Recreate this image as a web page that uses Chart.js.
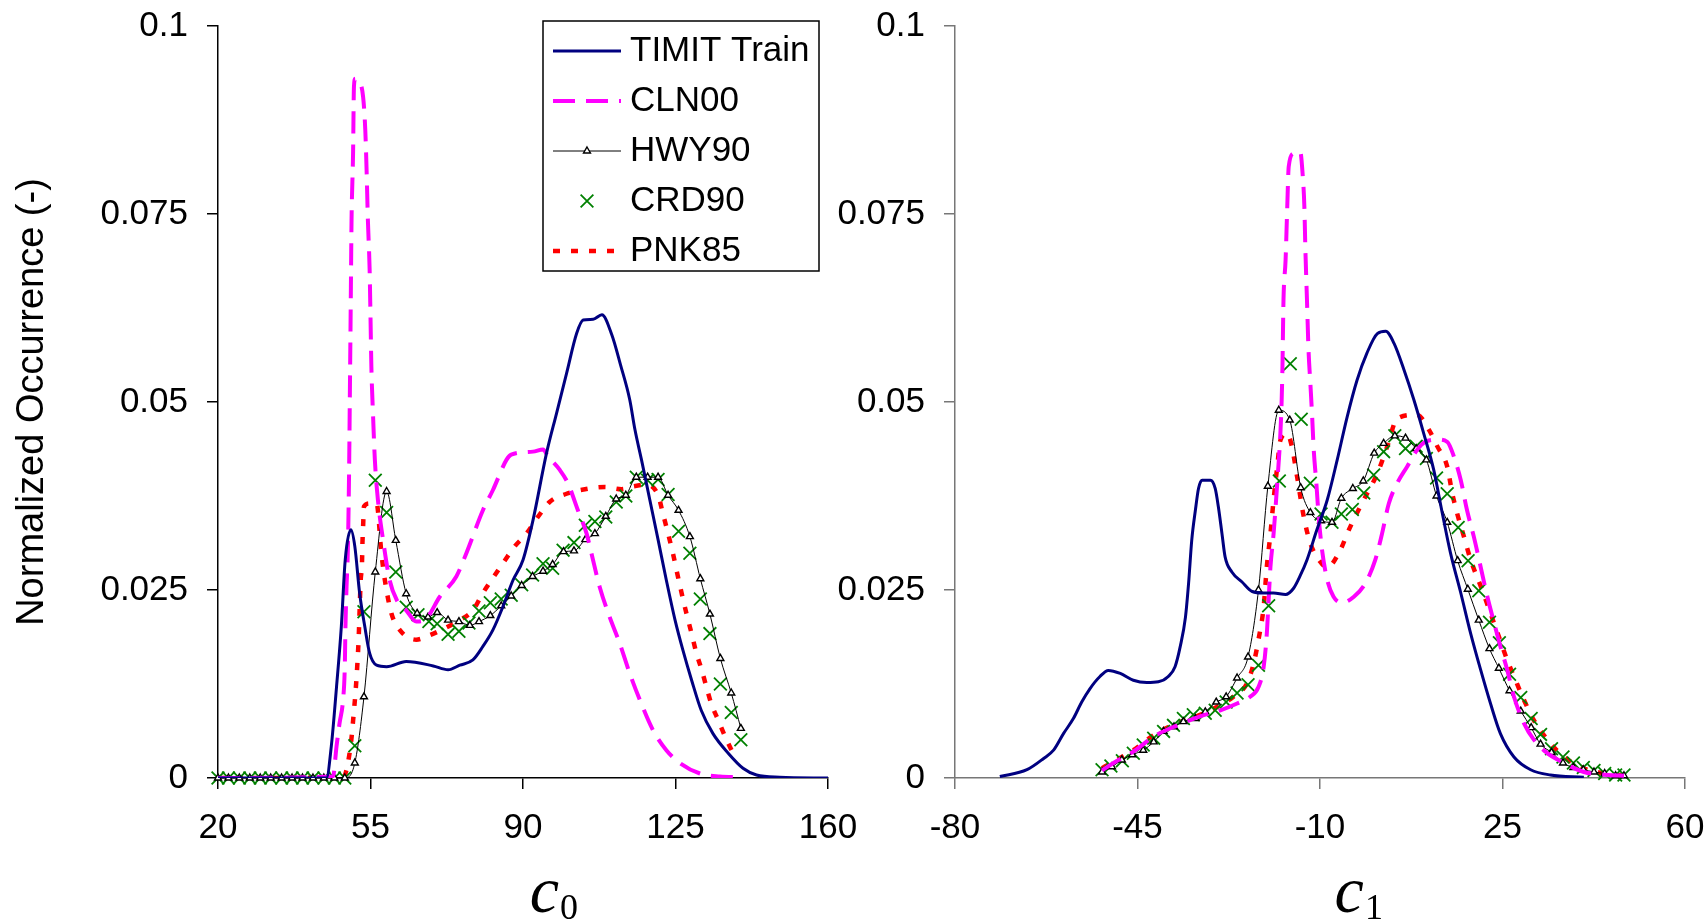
<!DOCTYPE html>
<html>
<head>
<meta charset="utf-8">
<script src="https://cdn.jsdelivr.net/npm/chart.js@4.4.1/dist/chart.umd.min.js"></script>
<style>
  body { margin: 0; background: #fff; }
  #wrap { position: relative; width: 1708px; height: 921px; }
  canvas { position: absolute; top: 0; }
</style>
</head>
<body>
<div id="wrap">
  <canvas id="chartC0" width="880" height="921" style="left:0"></canvas>
  <canvas id="chartC1" width="878" height="921" style="left:830px"></canvas>
</div>
<script>
// tick values and labels
const c0Ticks = [20, 55, 90, 125, 160];
const c1Ticks = [-80, -45, -10, 25, 60];
const yTicks = [0, 0.025, 0.05, 0.075, 0.1];
const yTickLabels = ['0', '0.025', '0.05', '0.075', '0.1'];
const seriesNames = ['TIMIT Train', 'CLN00', 'HWY90', 'CRD90', 'PNK85'];

// c0 histograms, [x, y]
const timitC0 = [[20,0],[44.9,0],[46.0,0.0042],[47.2,0.0121],[48.3,0.0201],[49.2,0.0290],[50.5,0.0330],[51.4,0.0308],[52.5,0.0246],
  [53.7,0.0201],[54.8,0.0166],[56.4,0.0150],[58.7,0.0148],[63.2,0.0155],[69.4,0.0149],[72.8,0.0144],[75.5,0.0150],[78.5,0.0157],
  [80.8,0.0175],[83.1,0.0197],[85.4,0.0228],[87.7,0.0263],[90.0,0.0290],[92.3,0.0343],[95.4,0.0432],[97.7,0.0485],[100.0,0.0538],
  [102.3,0.0591],[103.8,0.0609],[106.1,0.0610],[108.1,0.0616],[110.4,0.0589],[112.4,0.0549],[114.5,0.0503],[115.7,0.0463],
  [117.2,0.0423],[119.1,0.0370],[121.0,0.0317],[122.9,0.0263],[124.9,0.0210],[126.7,0.0170],[128.7,0.0130],[130.9,0.0090],
  [133.6,0.0059],[137.1,0.0033],[140.5,0.0013],[143.6,0.0004],[148.9,0.0001],[160,0]];
const clnC0 = [[20,0],[46.4,0.0002],[47.2,0.0042],[47.9,0.0073],[48.7,0.0104],[49.1,0.0148],[49.25,0.0201],[49.5,0.0254],
  [49.8,0.0303],[50.1,0.0414],[50.25,0.0503],[50.4,0.0591],[50.5,0.0653],[50.65,0.0742],[51.0,0.0831],[51.2,0.0919],[51.5,0.0930],
  [52.1,0.0928],[53.3,0.0906],[53.8,0.0862],[54.1,0.0809],[54.4,0.0742],[54.8,0.0676],[55.0,0.0613],[55.2,0.0547],[55.6,0.0480],
  [56.0,0.0423],[56.7,0.0370],[57.9,0.0316],[59.4,0.0263],[61.0,0.0237],[63.2,0.0223],[65.5,0.0208],[67.8,0.0212],[70.9,0.0241],
  [74.7,0.0268],[77.0,0.0299],[80.8,0.0356],[83.1,0.0383],[86.2,0.0423],[87.3,0.0430],[92.3,0.0434],[94.6,0.0437],[95.7,0.0428],
  [98.4,0.0410],[100.3,0.0392],[102.6,0.0356],[104.6,0.0325],[105.7,0.0299],[107.6,0.0254],[109.9,0.0214],[112.2,0.0179],
  [114.5,0.0139],[116.8,0.0104],[119.8,0.0064],[122.9,0.0037],[126.0,0.0020],[130.6,0.0006],[135.2,0.0002],[139.7,0.0001]];
const hwyC0 = [[20,0],[22.4,0],[24.9,0],[27.3,0],[29.7,0],[32.1,0],[34.6,0],[37.0,0],[39.4,0],[41.8,0],[44.3,0],[46.7,0],[49.1,0],
  [51.4,0.0020],[53.5,0.0108],[56.1,0.0274],[58.7,0.0381],[60.8,0.0316],[63.2,0.0245],[65.7,0.0219],[68.2,0.0214],[70.3,0.0220],
  [72.8,0.0210],[75.3,0.0208],[77.8,0.0203],[79.9,0.0208],[82.5,0.0216],[85.0,0.0229],[87.3,0.0242],[89.7,0.0256],[92.2,0.0268],
  [94.6,0.0275],[96.8,0.0284],[99.3,0.0301],[101.7,0.0302],[104.3,0.0317],[106.5,0.0325],[109.0,0.0348],[111.4,0.0371],
  [113.6,0.0376],[116.0,0.0400],[118.6,0.0400],[121.0,0.0400],[123.3,0.0376],[125.7,0.0356],[128.3,0.0321],[130.7,0.0265],
  [132.9,0.0218],[135.3,0.0159],[137.8,0.0113],[140.0,0.0066]];
const crdC0 = [[20,0],[22.4,0],[24.9,0],[27.3,0],[29.7,0],[32.1,0],[34.6,0],[37.0,0],[39.4,0],[41.8,0],[44.3,0],[46.7,0],[49.1,0],
  [51.4,0.0043],[53.5,0.0221],[56.1,0.0396],[58.7,0.0353],[60.8,0.0274],[63.2,0.0227],[65.9,0.0217],[68.4,0.0208],[70.3,0.0205],
  [72.8,0.0191],[75.3,0.0195],[77.6,0.0206],[79.9,0.0222],[82.5,0.0233],[85.0,0.0238],[87.3,0.0243],[89.7,0.0257],[92.2,0.0270],
  [94.6,0.0285],[96.8,0.0279],[99.2,0.0303],[101.7,0.0313],[104.3,0.0336],[106.5,0.0341],[109.0,0.0347],[111.4,0.0367],
  [113.6,0.0375],[116.0,0.0400],[118.6,0.0396],[121.0,0.0397],[123.3,0.0377],[125.7,0.0328],[128.3,0.0299],[130.7,0.0238],
  [132.9,0.0192],[135.3,0.0125],[137.8,0.0087],[140.0,0.0051]];
const pnkC0 = [[20,0],[48.7,0.0001],[49.5,0.0011],[50.6,0.0051],[51.15,0.0086],[51.6,0.0117],[52.0,0.0153],[52.3,0.0188],
  [52.5,0.0223],[52.75,0.0263],[53.05,0.0286],[53.15,0.0312],[53.3,0.0334],[53.5,0.0361],[54.8,0.0365],[56.4,0.0365],[57.5,0.0299],
  [58.3,0.0263],[59.8,0.0219],[61.7,0.0197],[65.5,0.0184],[68.6,0.0190],[72.0,0.0199],[75.5,0.0210],[78.5,0.0223],[80.8,0.0246],
  [83.1,0.0266],[85.8,0.0289],[88.1,0.0308],[90.8,0.0325],[93.4,0.0347],[96.1,0.0367],[100.0,0.0378],[104.2,0.0384],[108.8,0.0387],
  [112.6,0.0384],[115.4,0.0388],[118.3,0.0390],[121.0,0.0376],[122.1,0.0352],[123.3,0.0325],[124.4,0.0299],[125.4,0.0272],
  [126.4,0.0246],[127.5,0.0219],[128.7,0.0192],[129.8,0.0166],[131.0,0.0144],[132.1,0.0121],[133.2,0.0099],[134.8,0.0077],
  [136.7,0.0051],[138.2,0.0033]];

// c1 histograms, [x, y]
const timitC1 = [[-71.4,0.0002],[-66.2,0.0011],[-63.0,0.0026],[-61.1,0.0037],[-59.2,0.0059],[-57.3,0.0079],[-55.7,0.0101],
  [-54.1,0.0119],[-52.2,0.0135],[-50.6,0.0143],[-48.3,0.0139],[-45.8,0.0130],[-43.2,0.0127],[-41.0,0.0128],[-39.1,0.0135],
  [-37.8,0.0148],[-36.8,0.0175],[-35.8,0.0214],[-35.2,0.0259],[-34.6,0.0316],[-33.9,0.0356],[-33.3,0.0385],[-32.6,0.0396],
  [-31.0,0.0396],[-30.1,0.0385],[-29.5,0.0361],[-28.8,0.0325],[-28.2,0.0294],[-26.9,0.0274],[-25.0,0.0261],[-23.0,0.0248],
  [-20.8,0.0246],[-18.9,0.0246],[-16.6,0.0244],[-15.1,0.0252],[-13.8,0.0269],[-12.5,0.0290],[-10.6,0.0330],[-8.6,0.0370],
  [-6.7,0.0423],[-4.8,0.0480],[-2.9,0.0529],[-1.0,0.0565],[1.0,0.0591],[2.6,0.0594],[4.2,0.0578],[6.1,0.0543],[8.0,0.0503],
  [9.9,0.0458],[11.8,0.0410],[13.4,0.0354],[15.0,0.0300],[17.0,0.0246],[18.9,0.0192],[20.8,0.0144],[22.7,0.0099],[24.6,0.0059],
  [27.2,0.0028],[30.4,0.0011],[34.2,0.0004],[40.6,0.0001]];
const clnC1 = [[-51.8,0.0010],[-49.6,0.0020],[-45.8,0.0035],[-41.9,0.0055],[-37.4,0.0070],[-33.0,0.0082],[-29.1,0.0090],
  [-25.9,0.0099],[-23.4,0.0108],[-21.8,0.0121],[-20.8,0.0148],[-20.2,0.0192],[-19.85,0.0237],[-19.5,0.0281],[-18.9,0.0325],
  [-18.2,0.0392],[-17.6,0.0458],[-17.35,0.0503],[-17.2,0.0547],[-17.0,0.0636],[-16.6,0.0689],[-16.3,0.0755],[-16.0,0.0813],
  [-15.05,0.0831],[-13.8,0.0833],[-13.3,0.0800],[-13.0,0.0760],[-12.8,0.0702],[-12.5,0.0636],[-12.2,0.0569],[-11.85,0.0525],
  [-11.5,0.0480],[-11.2,0.0436],[-10.7,0.0392],[-10.25,0.0347],[-9.6,0.0303],[-8.6,0.0263],[-7.4,0.0241],[-5.8,0.0233],
  [-3.5,0.0241],[-1.3,0.0259],[0.6,0.0290],[1.9,0.0325],[3.2,0.0365],[4.8,0.0392],[6.7,0.0414],[8.6,0.0436],[10.2,0.0447],
  [12.5,0.0450],[14.4,0.0447],[15.7,0.0427],[17.0,0.0396],[18.2,0.0356],[19.5,0.0321],[20.8,0.0281],[22.1,0.0241],[23.4,0.0206],
  [24.6,0.0175],[25.9,0.0144],[27.2,0.0108],[29.1,0.0073],[31.0,0.0051],[33.6,0.0033],[36.8,0.0020],[40.6,0.0008],[45.1,0.0004],
  [48.3,0.0003]];
const hwyC1 = [[-51.8,0.0008],[-49.9,0.0015],[-48.0,0.0024],[-46.0,0.0031],[-43.9,0.0037],[-41.9,0.0048],[-40.0,0.0062],
  [-38.0,0.0068],[-36.2,0.0075],[-33.9,0.0079],[-32.0,0.0088],[-29.9,0.0101],[-28.0,0.0108],[-25.9,0.0133],[-23.8,0.0161],
  [-21.8,0.0250],[-20.0,0.0388],[-17.9,0.0489],[-15.8,0.0476],[-13.7,0.0386],[-11.85,0.0353],[-9.8,0.0342],[-7.7,0.0340],
  [-5.9,0.0372],[-3.7,0.0385],[-1.7,0.0395],[0.4,0.0432],[2.2,0.0445],[4.35,0.0455],[6.4,0.0452],[8.45,0.0438],[10.4,0.0423],
  [12.35,0.0375],[14.4,0.0340],[16.4,0.0289],[18.35,0.0251],[20.45,0.0210],[22.5,0.0172],[24.3,0.0146],[26.35,0.0116],
  [28.5,0.0089],[30.5,0.0067],[32.3,0.0045],[34.4,0.0034],[36.6,0.0020],[38.6,0.0014],[40.5,0.0011],[42.55,0.0008],
  [44.6,0.0006],[46.7,0.0003],[48.3,0.0003]];
const crdC1 = [[-51.8,0.0011],[-50.1,0.0016],[-47.9,0.0023],[-45.8,0.0033],[-43.9,0.0044],[-41.9,0.0053],[-40.0,0.0062],
  [-38.1,0.0070],[-36.2,0.0079],[-34.3,0.0084],[-32.0,0.0086],[-30.1,0.0090],[-28.0,0.0101],[-25.9,0.0113],[-23.8,0.0124],
  [-21.8,0.0150],[-19.85,0.0229],[-17.8,0.0395],[-15.7,0.0551],[-13.6,0.0477],[-11.85,0.0392],[-9.8,0.0351],[-7.7,0.0340],
  [-5.9,0.0351],[-3.8,0.0357],[-1.6,0.0379],[0.3,0.0403],[2.2,0.0434],[4.35,0.0455],[6.4,0.0438],[8.45,0.0441],[10.4,0.0425],
  [12.35,0.0399],[14.4,0.0378],[16.5,0.0333],[18.4,0.0289],[20.45,0.0249],[22.5,0.0207],[24.4,0.0180],[26.35,0.0138],
  [28.5,0.0107],[30.5,0.0079],[32.3,0.0058],[34.4,0.0039],[36.6,0.0028],[38.6,0.0020],[40.5,0.0014],[42.55,0.0010],
  [44.6,0.0006],[46.7,0.0004],[48.3,0.0004]];
const pnkC1 = [[-51.8,0.0013],[-45.8,0.0037],[-41.9,0.0057],[-37.4,0.0073],[-33.0,0.0084],[-29.1,0.0097],[-26.6,0.0108],
  [-24.0,0.0126],[-22.7,0.0153],[-21.8,0.0184],[-20.8,0.0228],[-20.2,0.0281],[-19.5,0.0325],[-18.9,0.0370],[-18.2,0.0414],
  [-17.6,0.0449],[-16.3,0.0458],[-15.4,0.0441],[-14.4,0.0401],[-13.1,0.0347],[-11.85,0.0312],[-10.0,0.0288],[-8.6,0.0280],
  [-6.4,0.0299],[-4.2,0.0334],[-1.6,0.0370],[1.0,0.0405],[2.9,0.0441],[4.8,0.0478],[8.6,0.0483],[10.9,0.0463],[12.5,0.0441],
  [14.4,0.0414],[15.35,0.0379],[16.3,0.0352],[17.6,0.0321],[18.9,0.0290],[21.1,0.0250],[22.7,0.0219],[24.3,0.0188],
  [25.9,0.0157],[27.5,0.0130],[29.1,0.0104],[31.0,0.0077],[33.6,0.0051],[36.8,0.0028],[40.6,0.0013],[44.5,0.0006],[48.3,0.0003]];

Chart.defaults.font.family = "'Liberation Sans', Arial, sans-serif";
Chart.defaults.color = '#000';

function toPoints(pairs) {
  return pairs.map(p => ({ x: p[0], y: p[1] }));
}

function makeDatasets(timit, cln, hwy, crd, pnk) {
  return [{
    label: seriesNames[0], data: toPoints(timit),
    borderColor: '#000080', borderWidth: 3, pointRadius: 0,
    cubicInterpolationMode: 'monotone'
  }, {
    label: seriesNames[1], data: toPoints(cln),
    borderColor: '#ff00ff', borderWidth: 4, borderDash: [22, 11], pointRadius: 0,
    cubicInterpolationMode: 'monotone'
  }, {
    label: seriesNames[2], data: toPoints(hwy),
    borderColor: '#000', borderWidth: 1, cubicInterpolationMode: 'monotone',
    pointStyle: 'triangle', pointRadius: 4, pointBorderWidth: 1.4,
    pointBackgroundColor: '#fff', pointBorderColor: '#000', clip: false
  }, {
    label: seriesNames[3], data: toPoints(crd), showLine: false,
    borderColor: '#008000', backgroundColor: '#008000',
    pointStyle: 'crossRot', pointRadius: 9, pointBorderWidth: 1.8, clip: false
  }, {
    label: seriesNames[4], data: toPoints(pnk),
    borderColor: '#ff0000', borderWidth: 4.5, borderDash: [7, 11], pointRadius: 0,
    cubicInterpolationMode: 'monotone'
  }];
}

// legend box drawn inside the plot, as in the figure
const boxLegend = {
  id: 'boxLegend',
  afterDraw(chart, args, opts) {
    if (!opts.show) return;
    const ctx = chart.ctx, ca = chart.chartArea;
    const x0 = ca.right - 285, y0 = ca.top - 5, w = 276, h = 250;
    ctx.save();
    ctx.fillStyle = '#fff';
    ctx.fillRect(x0, y0, w, h);
    ctx.strokeStyle = '#000';
    ctx.lineWidth = 1.5;
    ctx.strokeRect(x0, y0, w, h);
    chart.data.datasets.forEach((ds, i) => {
      const y = y0 + 30 + i * 50;
      const xa = x0 + 10, xb = x0 + 78, xm = (xa + xb) / 2;
      if (ds.showLine !== false) {
        ctx.beginPath();
        ctx.setLineDash(ds.borderDash || []);
        ctx.lineWidth = ds.borderWidth;
        ctx.strokeStyle = ds.borderColor;
        ctx.moveTo(xa, y);
        ctx.lineTo(xb, y);
        ctx.stroke();
        ctx.setLineDash([]);
      }
      if (ds.pointRadius > 0) {
        ctx.fillStyle = ds.pointBackgroundColor || ds.borderColor;
        ctx.strokeStyle = ds.pointBorderColor || ds.borderColor;
        ctx.lineWidth = ds.pointBorderWidth;
        Chart.helpers.drawPoint(ctx, {
          pointStyle: ds.pointStyle, radius: ds.pointRadius,
          borderWidth: ds.pointBorderWidth, rotation: 0
        }, xm, y);
      }
      ctx.fillStyle = '#000';
      ctx.font = "35px 'Liberation Sans', Arial, sans-serif";
      ctx.textAlign = 'left';
      ctx.textBaseline = 'middle';
      ctx.fillText(ds.label, x0 + 87, y);
    });
    ctx.restore();
  }
};

// italic axis symbol with an upright subscript
const axisCaption = {
  id: 'axisCaption',
  afterDraw(chart, args, opts) {
    const ctx = chart.ctx, ca = chart.chartArea;
    const x = ca.left + opts.frac * (ca.right - ca.left);
    const y = ca.bottom + 134;
    ctx.save();
    ctx.fillStyle = '#000';
    ctx.textAlign = 'left';
    ctx.textBaseline = 'alphabetic';
    ctx.font = "italic 66px 'Liberation Serif', 'Times New Roman', serif";
    ctx.fillText(opts.letter, x, y);
    const w = ctx.measureText(opts.letter).width;
    ctx.font = "36px 'Liberation Serif', 'Times New Roman', serif";
    ctx.fillText(opts.sub, x + w + 1, y + 7);
    ctx.restore();
  }
};

function makeChart(id, datasets, xTicks, axisColor, yWidth, padRight, yTitle, caption) {
  return new Chart(document.getElementById(id), {
    type: 'line',
    data: { datasets: datasets },
    plugins: [boxLegend, axisCaption],
    options: {
      responsive: false,
      animation: false,
      devicePixelRatio: 1,
      events: [],
      layout: { padding: { left: 0, top: 26, right: padRight, bottom: 0 } },
      scales: {
        x: {
          type: 'linear',
          min: xTicks[0],
          max: xTicks[xTicks.length - 1],
          afterBuildTicks: (scale) => { scale.ticks = xTicks.map(v => ({ value: v })); },
          afterFit: (scale) => { scale.height = 143; scale.paddingLeft = 0; scale.paddingRight = 0; },
          grid: { drawOnChartArea: false, drawTicks: true, tickLength: 11, color: axisColor, lineWidth: 1.5 },
          border: { display: true, color: axisColor, width: 1.5 },
          ticks: { font: { size: 35 }, padding: 18, maxRotation: 0, color: '#000' }
        },
        y: {
          min: 0,
          max: 0.1,
          afterBuildTicks: (scale) => { scale.ticks = yTicks.map(v => ({ value: v })); },
          afterFit: (scale) => { scale.width = yWidth; scale.paddingTop = 0; scale.paddingBottom = 0; },
          grid: { drawOnChartArea: false, drawTicks: true, tickLength: 11, color: axisColor, lineWidth: 1.5 },
          border: { display: true, color: axisColor, width: 1.5 },
          ticks: { font: { size: 35 }, padding: 19, color: '#000', callback: (v, i) => yTickLabels[i] },
          title: {
            display: !!yTitle, text: yTitle || '',
            font: { size: 38 }, padding: { top: 10, bottom: 0 }, color: '#000'
          }
        }
      },
      plugins: {
        legend: { display: false },
        tooltip: { enabled: false },
        boxLegend: { show: caption.legend },
        axisCaption: caption
      }
    }
  });
}

makeChart('chartC0', makeDatasets(timitC0, clnC0, hwyC0, crdC0, pnkC0), c0Ticks, '#000', 218, 52,
  'Normalized Occurrence (-)', { letter: 'c', sub: '0', frac: 0.511, legend: true });
makeChart('chartC1', makeDatasets(timitC1, clnC1, hwyC1, crdC1, pnkC1), c1Ticks, '#777', 125, 23,
  null, { letter: 'c', sub: '1', frac: 0.52, legend: false });
</script>
</body>
</html>
